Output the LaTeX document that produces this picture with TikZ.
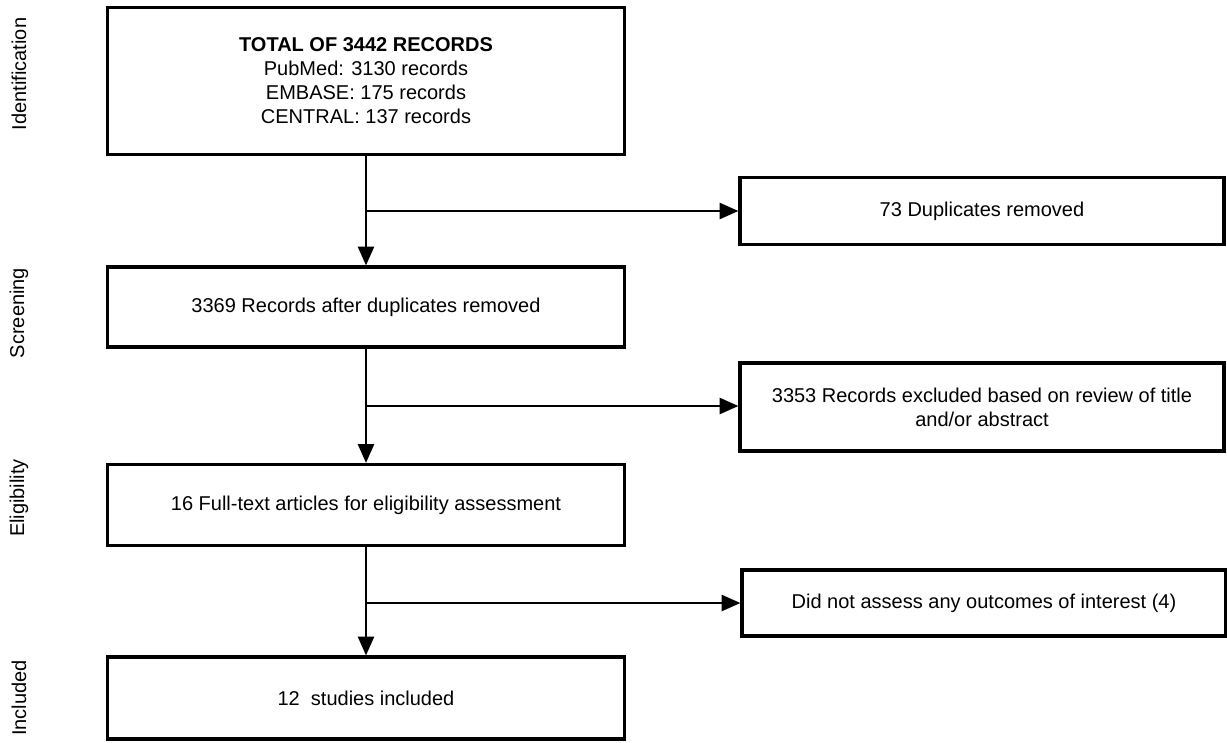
\documentclass[tikz,border=0pt]{standalone}
\usepackage{fontspec}
\setmainfont{Liberation Sans}
\usetikzlibrary{arrows.meta, positioning}

\begin{document}
\begin{tikzpicture}[
    x=0.75pt, y=-0.75pt,
    font=\fontsize{15}{18}\selectfont,
    box/.style={rectangle, draw, line width=2.4pt, align=center, inner sep=4pt},
    mainbox/.style={box, minimum width=517*0.75pt},
    sidebox/.style={box, minimum width=484*0.75pt},
    flow/.style={-{Triangle[length=14pt, width=12pt]}, line width=1.6pt},
    stage_label/.style={rotate=90, anchor=center}
]
\useasboundingbox (0,0) rectangle (1227,742);

% Main column
\node[mainbox, minimum height=147*0.75pt] (total) at (366,81)
    {\textbf{TOTAL OF 3442 RECORDS}\\PubMed: 3130 records\\EMBASE: 175 records\\CENTRAL: 137 records};
\node[mainbox, minimum height=80*0.75pt] (screened) at (366,307) {3369 Records after duplicates removed};
\node[mainbox, minimum height=81*0.75pt] (fulltext) at (366,505) {16 Full-text articles for eligibility assessment};
\node[mainbox, minimum height=82*0.75pt] (included) at (366,698) {12\ \ studies included};

% Exclusions
\node[sidebox, minimum height=67*0.75pt] (dups) at (982,211) {73 Duplicates removed};
\node[sidebox, minimum height=88*0.75pt] (abstract) at (982,407)
    {3353 Records excluded based on review of title\\and/or abstract};
\node[sidebox, minimum height=66*0.75pt] (nooutcome) at (984,603) {Did not assess any outcomes of interest (4)};

% Stage labels
\node[stage_label] (ident) at (19,74) {Identification};
\node[stage_label] (screen) at (19,313) {Screening};
\node[stage_label] (elig) at (19,498) {Eligibility};
\node[stage_label] (incl) at (19,698) {Included};

% Flow down the column
\draw[flow] (total) -- (screened);
\draw[flow] (screened) -- (fulltext);
\draw[flow] (fulltext) -- (included);

% Branches to the exclusion boxes
\coordinate (split1) at (366,211);
\coordinate (split2) at (366,406);
\coordinate (split3) at (366,603);
\draw[flow] (split1) -- (split1 -| dups.west);
\draw[flow] (split2) -- (split2 -| abstract.west);
\draw[flow] (split3) -- (split3 -| nooutcome.west);

\end{tikzpicture}
\end{document}
